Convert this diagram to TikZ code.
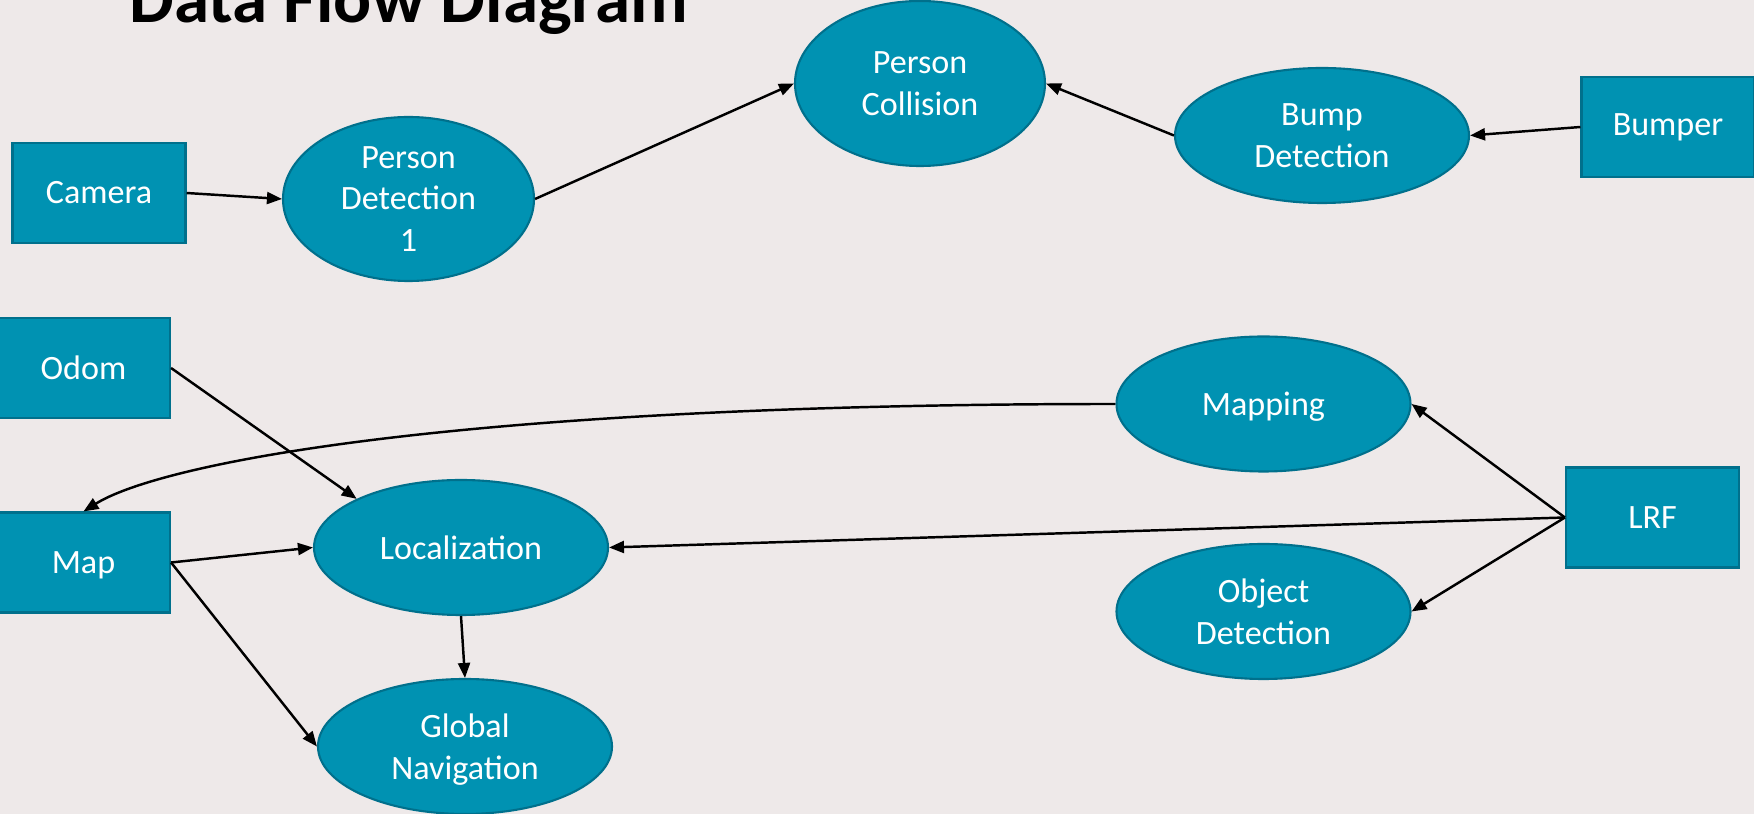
\documentclass[tikz,border=0pt]{standalone}
\usepackage{fontspec}
\setmainfont{Carlito}
\usetikzlibrary{arrows.meta,shapes.geometric}
\definecolor{dfdbg}{RGB}{238,233,233}
\definecolor{dfdfill}{RGB}{0,146,178}
\definecolor{dfdedge}{RGB}{0,112,140}
\tikzset{
  fig/.style={font=\fontsize{9.7}{11.9}\selectfont},
  ext/.style={draw=dfdedge,line width=0.6pt,fill=dfdfill,text=white,
              minimum width=17.3mm,minimum height=10mm,inner sep=2pt,align=center},
  proc/.style={ellipse,draw=dfdedge,line width=0.6pt,fill=dfdfill,text=white,
               minimum width=29.4mm,minimum height=13.5mm,inner sep=0pt,align=center},
  ln/.style={-{Triangle[length=1.5mm,width=1.2mm]},line width=0.7pt},
}

\begin{document}
\begin{tikzpicture}[fig,
  hd/.style={font=\fontsize{20.2}{24}\selectfont\bfseries,inner sep=0pt,anchor=base west}]

\useasboundingbox (0,0) rectangle (17.54,8.14);
\fill[dfdbg] (0,0) rectangle (17.54,8.14);

\node[hd] (title) at (1.29,7.915) {Data Flow Diagram};

\node[ext] (camera) at (0.99,6.21)   {Camera};
\node[ext] (bumper) at (16.68,6.87)  {Bumper};
\node[ext] (odom)   at (0.835,4.46)  {Odom};
\node[ext,text depth=0pt] (map) at (0.835,2.515) {Map};
\node[ext] (lrf)    at (16.525,2.965){LRF};

\node[proc,minimum width=25.1mm,minimum height=16.4mm] (pdet)  at (4.085,6.15) {Person\\Detection\\1};
\node[proc,minimum width=25mm,minimum height=16.5mm]   (pcoll) at (9.20,7.305) {Person\\Collision};
\node[proc] (bump)    at (13.22,6.785) {Bump\\Detection};
\node[proc] (loc)     at (4.61,2.665)  {Localization};
\node[proc] (gnav)    at (4.65,0.675)  {Global\\\smash{Navigation}};
\node[proc,text depth=0pt] (mapping) at (12.635,4.10) {Mapping};
\node[proc] (objdet)  at (12.635,2.025){Object\\Detection};

\draw[ln] (camera.east) -- (pdet.west);
\draw[ln] (pdet.east) -- (pcoll.west);
\draw[ln] (bumper.west) -- (bump.east);
\draw[ln] (bump.west) -- (pcoll.east);

\draw[ln] (odom.east) -- (loc.155);
\draw[ln] (map.east) -- (loc.west);
\draw[ln] (map.east) -- (gnav.west);
\draw[ln] (loc.south) -- (gnav.north);

\draw[ln] (lrf.west) -- (mapping.east);
\draw[ln] (lrf.west) -- (loc.east);
\draw[ln] (lrf.west) -- (objdet.east);
\draw[ln] (mapping.west) .. controls +(-6.67,0) and +(0.75,0.47) .. (map.north);

\end{tikzpicture}
\end{document}
